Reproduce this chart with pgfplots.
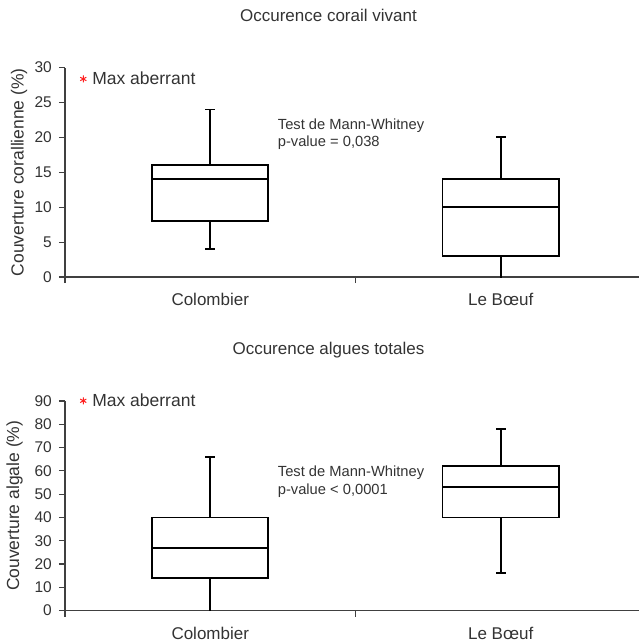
\documentclass[border=0pt]{standalone}
\usepackage{fontspec}
\setmainfont{Liberation Sans}
\usepackage{pgfplots}
\pgfplotsset{compat=1.18}
\definecolor{txt}{HTML}{333333}
\definecolor{axc}{HTML}{404040}
\definecolor{outl}{HTML}{FF2020}
\pgfplotsset{
  myaxis/.style={
    scale only axis, width=574bp, height=209.5bp,
    xmin=0, xmax=1.976, ymin=0,
    clip=false,
    axis x line*=bottom, axis y line*=left,
    axis line style={axc, line width=1.1bp},
    tick style={axc, line width=1.1bp},
    tick align=outside,
    major tick length=6bp,
    /pgf/number format/assume math mode=true,
    xtick={0,1,2}, xticklabels={,,},
    extra x ticks={0.5,1.5},
    extra x tick labels={Colombier,Le B\oe uf},
    extra x tick style={major tick length=0pt,
      xticklabel style={anchor=base, yshift=-28.5bp, inner sep=0pt,
        font=\fontsize{17bp}{20bp}\selectfont, text=txt}},
    yticklabel style={anchor=east, inner sep=0pt, xshift=-7bp,
      font=\fontsize{15.5bp}{18bp}\selectfont, text=txt},
    title style={at={(axis description cs:0.459,1.1914)}, anchor=base,
      font=\fontsize{17bp}{20bp}\selectfont, text=txt},
    legend style={anchor=west, draw=none, fill=none, inner sep=0pt,
      nodes={inner sep=0pt}, column sep=6bp,
      font=\fontsize{17.5bp}{20bp}\selectfont, text=txt},
    legend image code/.code={\draw[##1] plot coordinates {(0bp,0bp)};},
  },
  bx/.style={forget plot, draw=black, line width=1.7bp, solid, mark=none, line cap=rect},
}
\begin{document}
\begin{tikzpicture}
% ---------- top panel ----------
\begin{axis}[myaxis, at={(0,0)}, anchor=south west,
  ymax=30, ytick={0,5,...,30},
  title={Occurence corail vivant},
  ylabel={Couverture corallienne (\%)},
  ylabel style={at={(axis description cs:-0.0801,0.5)}, anchor=center,
    font=\fontsize{17.5bp}{20bp}\selectfont, text=txt},
  legend style={at={(axis description cs:0.0262,0.9453)}},
]
\addlegendimage{only marks, mark=asterisk, outl, mark size=3.5bp, mark options={line width=1bp}}
\addlegendentry{Max aberrant}
% Colombier: whiskers 4-24, box 8-16, median 14
\addplot[bx] coordinates {(0.3,8) (0.7,8) (0.7,16) (0.3,16) (0.3,8)};
\addplot[bx] coordinates {(0.3,14) (0.7,14)};
\addplot[bx] coordinates {(0.5,16) (0.5,24)};
\addplot[bx] coordinates {(0.5,8) (0.5,4)};
\addplot[bx] coordinates {(0.486,24) (0.514,24)};
\addplot[bx] coordinates {(0.486,4) (0.514,4)};
% Le Boeuf: whiskers 0-20, box 3-14, median 10
\addplot[bx] coordinates {(1.3,3) (1.7,3) (1.7,14) (1.3,14) (1.3,3)};
\addplot[bx] coordinates {(1.3,10) (1.7,10)};
\addplot[bx] coordinates {(1.5,14) (1.5,20)};
\addplot[bx] coordinates {(1.5,3) (1.5,0)};
\addplot[bx] coordinates {(1.486,20) (1.514,20)};
\node[anchor=base west, inner sep=0pt, font=\fontsize{14.7bp}{17bp}\selectfont, text=txt]
  at (axis cs:0.7322,21.15) {Test de Mann-Whitney};
\node[anchor=base west, inner sep=0pt, font=\fontsize{14.7bp}{17bp}\selectfont, text=txt]
  at (axis cs:0.7322,18.72) {p-value = 0,038};
\end{axis}
% ---------- bottom panel ----------
\begin{axis}[myaxis, at={(0,-333.5bp)}, anchor=south west,
  ymax=90, ytick={0,10,...,90},
  title={Occurence algues totales},
  ylabel={Couverture algale (\%)},
  ylabel style={at={(axis description cs:-0.088,0.5)}, anchor=center,
    font=\fontsize{17.5bp}{20bp}\selectfont, text=txt},
  legend style={at={(axis description cs:0.0262,1.0011)}},
]
\addlegendimage{only marks, mark=asterisk, outl, mark size=3.5bp, mark options={line width=1bp}}
\addlegendentry{Max aberrant}
% Colombier: whiskers 0-66, box 14-40, median 27
\addplot[bx] coordinates {(0.3,14) (0.7,14) (0.7,40) (0.3,40) (0.3,14)};
\addplot[bx] coordinates {(0.3,27) (0.7,27)};
\addplot[bx] coordinates {(0.5,40) (0.5,66)};
\addplot[bx] coordinates {(0.5,14) (0.5,0)};
\addplot[bx] coordinates {(0.486,66) (0.514,66)};
% Le Boeuf: whiskers 16-78, box 40-62, median 53
\addplot[bx] coordinates {(1.3,40) (1.7,40) (1.7,62) (1.3,62) (1.3,40)};
\addplot[bx] coordinates {(1.3,53) (1.7,53)};
\addplot[bx] coordinates {(1.5,62) (1.5,78)};
\addplot[bx] coordinates {(1.5,40) (1.5,16)};
\addplot[bx] coordinates {(1.486,78) (1.514,78)};
\addplot[bx] coordinates {(1.486,16) (1.514,16)};
\node[anchor=base west, inner sep=0pt, font=\fontsize{14.7bp}{17bp}\selectfont, text=txt]
  at (axis cs:0.7322,57.43) {Test de Mann-Whitney};
\node[anchor=base west, inner sep=0pt, font=\fontsize{14.7bp}{17bp}\selectfont, text=txt]
  at (axis cs:0.7322,49.91) {p-value < 0,0001};
\end{axis}
\pgfresetboundingbox
\path[use as bounding box] (-65bp,-365bp) rectangle (574bp,277bp);
\end{tikzpicture}
\end{document}
